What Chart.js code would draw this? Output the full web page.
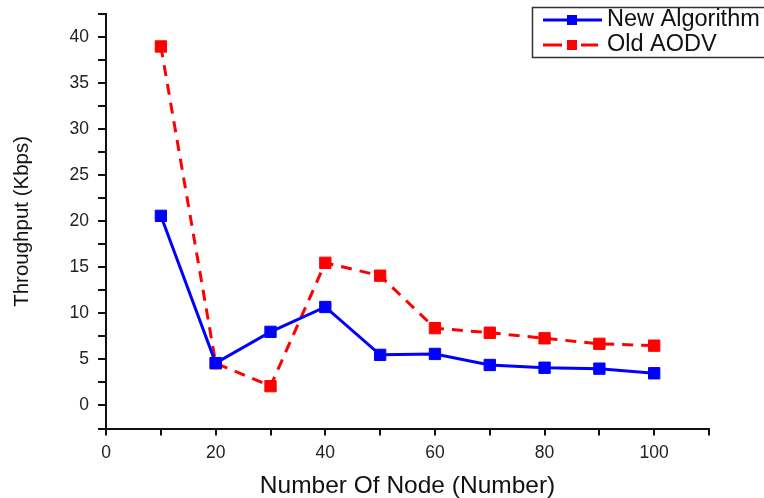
<!DOCTYPE html>
<html>
<head>
<meta charset="utf-8">
<script src="https://cdn.jsdelivr.net/npm/chart.js@4/dist/chart.umd.min.js"></script>
<style>
  html, body { margin: 0; padding: 0; background: #fff; }
  #wrap { width: 764px; height: 498px; position: relative; }
</style>
</head>
<body>
<div id="wrap"><canvas id="throughput"></canvas></div>
<script>
// DATA
const nodes = [10, 20, 30, 40, 50, 60, 70, 80, 90, 100];
const newAlgorithm = [20.6, 4.6, 8.0, 10.7, 5.5, 5.6, 4.4, 4.1, 4.0, 3.5];
const oldAodv = [39.0, 4.6, 2.1, 15.5, 14.1, 8.4, 7.9, 7.3, 6.7, 6.5];
const seriesNames = ["New Algorithm", "Old AODV"];
const xTickLabels = [0, 20, 40, 60, 80, 100];
const yTickLabels = [0, 5, 10, 15, 20, 25, 30, 35, 40];

const FONT = "'Liberation Sans', Arial, sans-serif";

// LEGEND BOX (drawn by hand, top right, cut by the edge)
const boxLegend = {
  id: "boxLegend",
  afterDraw(chart) {
    const ctx = chart.ctx;
    ctx.save();
    ctx.strokeStyle = "#333";
    ctx.lineWidth = 1.5;
    ctx.strokeRect(532.5, 7.5, 240, 50);
    chart.data.datasets.forEach((ds, i) => {
      const y = 20 + i * 25;
      ctx.strokeStyle = ds.borderColor;
      ctx.lineWidth = 3;
      ctx.beginPath();
      if (ds.borderDash) {
        ctx.moveTo(543, y);
        ctx.lineTo(562, y);
        ctx.moveTo(581, y);
        ctx.lineTo(598, y);
      } else {
        ctx.moveTo(543, y);
        ctx.lineTo(602, y);
      }
      ctx.stroke();
      ctx.fillStyle = ds.pointBackgroundColor;
      ctx.fillRect(567, y - 5, 10, 10);
      ctx.fillStyle = "#111";
      ctx.font = "23.5px " + FONT;
      ctx.textBaseline = "middle";
      ctx.fillText(ds.label, 607, y);
    });
    ctx.restore();
  },
};

const ctx = document.getElementById("throughput").getContext("2d");
new Chart(ctx, {
  type: "line",
  data: {
    datasets: [
      {
        label: seriesNames[0],
        data: nodes.map((n, i) => ({ x: n, y: newAlgorithm[i] })),
        borderColor: "#0000ff",
        backgroundColor: "#0000ff",
        pointBackgroundColor: "#0000ff",
        pointBorderColor: "#0000ff",
        borderWidth: 3,
        pointStyle: "rect",
        pointRadius: 8,
        pointBorderWidth: 1,
        tension: 0,
      },
      {
        label: seriesNames[1],
        data: nodes.map((n, i) => ({ x: n, y: oldAodv[i] })),
        borderColor: "#ff0000",
        backgroundColor: "#ff0000",
        pointBackgroundColor: "#ff0000",
        pointBorderColor: "#ff0000",
        borderWidth: 3,
        borderDash: [11, 8],
        pointStyle: "rect",
        pointRadius: 8,
        pointBorderWidth: 1,
        tension: 0,
      },
    ],
  },
  options: {
    responsive: true,
    maintainAspectRatio: false,
    animation: false,
    layout: { padding: { top: 13, right: 55, bottom: 0, left: 10 } },
    plugins: {
      legend: { display: false },
      tooltip: { enabled: false },
    },
    scales: {
      x: {
        type: "linear",
        min: 0,
        max: 110,
        border: { display: true, color: "#111", width: 2 },
        grid: { drawOnChartArea: false, drawTicks: true, tickLength: 7, color: "#111", lineWidth: 2 },
        ticks: {
          stepSize: 10,
          color: "#222",
          font: { family: FONT, size: 17.5 },
          padding: 7,
          autoSkip: false,
          maxRotation: 0,
          callback: (v) => (xTickLabels.includes(v) ? v : ""),
        },
        title: {
          display: true,
          text: "Number Of Node (Number)",
          color: "#111",
          font: { family: FONT, size: 24.5, lineHeight: 1 },
          padding: { top: 3, bottom: 0 },
        },
      },
      y: {
        type: "linear",
        min: -2.5,
        max: 42.5,
        border: { display: true, color: "#111", width: 2 },
        grid: { drawOnChartArea: false, drawTicks: true, tickLength: 8, color: "#111", lineWidth: 2 },
        ticks: {
          stepSize: 2.5,
          color: "#222",
          font: { family: FONT, size: 17.5, lineHeight: 0.6 },
          padding: 9,
          autoSkip: false,
          callback: (v) => (yTickLabels.includes(v) ? v : ""),
        },
        title: {
          display: true,
          text: "Throughput (Kbps)",
          color: "#111",
          font: { family: FONT, size: 20.5 },
          padding: { top: 0, bottom: 26 },
        },
      },
    },
  },
  plugins: [boxLegend],
});
</script>
</body>
</html>
